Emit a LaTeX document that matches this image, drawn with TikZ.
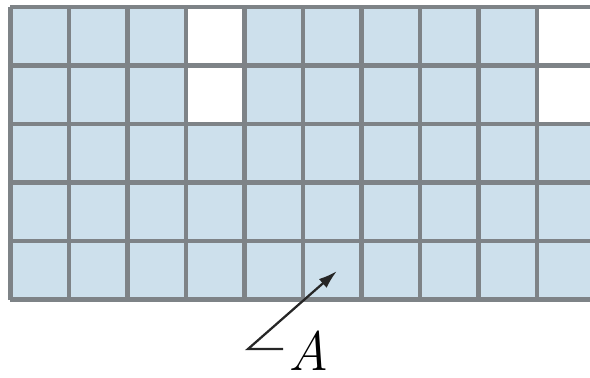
\documentclass[tikz,border=0pt]{standalone}
\usetikzlibrary{arrows.meta}
\definecolor{cellblue}{HTML}{CDE0EC}
\definecolor{gridgray}{HTML}{7E8387}
\begin{document}
\begin{tikzpicture}[x=1cm, y=1cm,
    gridline/.style={draw=gridgray, line width=2.4pt},
    blank/.style={fill=white},
    pointer/.style={-{Latex[length=3.2mm, width=2mm]}, line width=1.1pt, draw=black!85},
    lbl/.style={font=\fontsize{27}{29}\selectfont\itshape, inner sep=0pt}]

  \useasboundingbox (-0.179,-1.325) rectangle (9.906,5.12);
  \clip (-0.179,-1.325) rectangle (9.906,5.12);

  % shaded region with the two missing columns
  \fill[cellblue] (0,0) rectangle (10,5);
  \fill[blank] (3,3) rectangle (4,5);
  \fill[blank] (9,3) rectangle (10,5);
  \draw[gridline] (0,0) grid (10,5);

  % angle label
  \node[lbl, anchor=base] (labelA) at (5.10,-1.21) {A};
  \coordinate (angvtx) at (4.06,-0.846);
  \coordinate (angarm) at (4.66,-0.846);
  \coordinate (angtip) at (5.58,0.487);
  \draw[pointer] (angarm) -- (angvtx) -- (angtip);
\end{tikzpicture}
\end{document}
